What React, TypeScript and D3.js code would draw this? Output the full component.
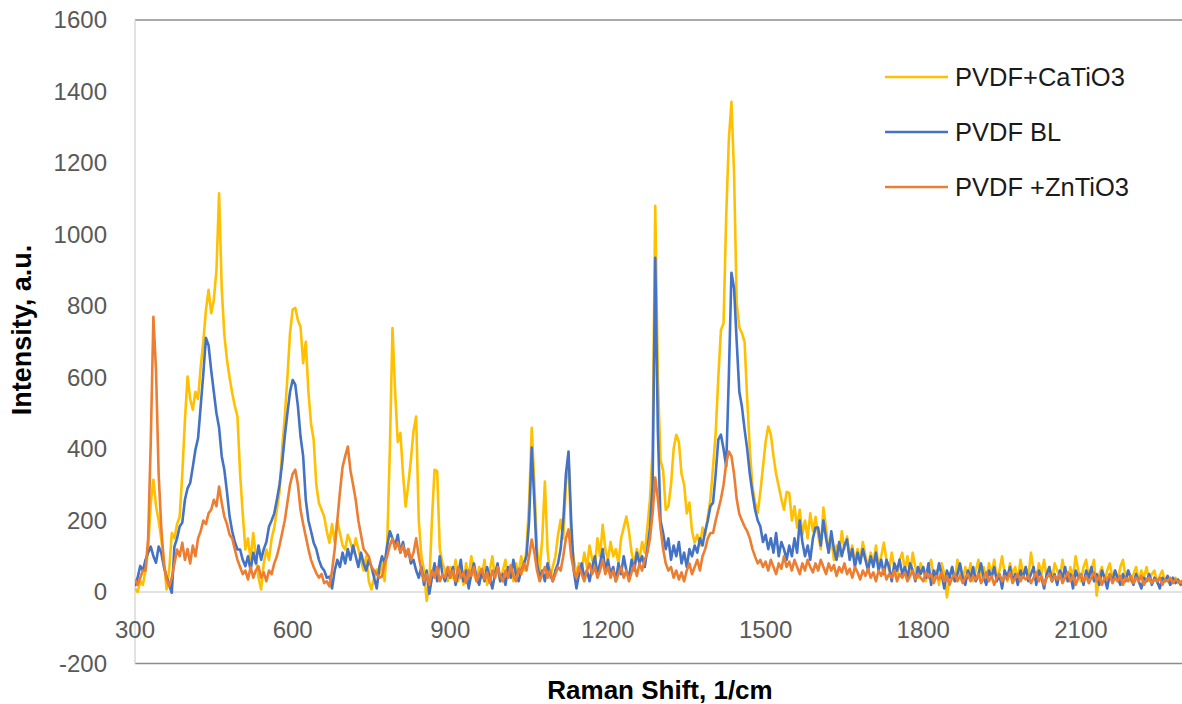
import React from "react";
import * as d3 from "d3";

// Raman shift grid, 1/cm (one reading every 5 1/cm)
const ramanShift = d3.range(300, 2301, 5);

// PVDF+CaTiO3, a.u.
const catio3 = [
  10, 0, 30, 20, 60, 119, 250, 314, 240, 200, 147, 90, 7, 60, 165, 150, 190, 211, 330, 480,
  603, 540, 510, 560, 540, 630, 700, 789, 845, 780, 817, 900, 1115, 850, 720, 649, 600, 556, 520, 491,
  330, 220, 119, 150, 90, 165, 100, 40, 7, 80, 119, 90, 150, 180, 230, 280, 400, 491, 600, 724,
  790, 795, 760, 742, 640, 700, 560, 470, 426, 300, 249, 230, 211, 170, 138, 190, 140, 200, 165, 130,
  119, 160, 140, 110, 150, 120, 90, 60, 100, 30, 7, 40, 63, 50, 80, 30, 140, 400, 738, 560,
  420, 445, 330, 239, 300, 370, 450, 491, 200, 100, 60, -25, 20, 200, 342, 338, 120, 80, 60, 30,
  70, 40, 90, 30, 60, 20, 80, 40, 100, 50, 30, 70, 40, 90, 20, 60, 100, 40, 70, 30,
  60, 90, 40, 70, 30, 80, 50, 100, 60, 120, 250, 459, 300, 120, 60, 150, 309, 120, 40, 70,
  100, 160, 202, 150, 300, 380, 150, 90, 50, 80, 60, 110, 70, 130, 90, 70, 150, 100, 188, 120,
  90, 140, 100, 120, 80, 150, 180, 211, 170, 110, 80, 120, 90, 140, 110, 180, 260, 400, 1080, 600,
  370, 340, 230, 240, 300, 400, 440, 420, 330, 300, 220, 250, 170, 138, 160, 130, 180, 160, 210, 260,
  350, 445, 600, 733, 752, 1050, 1264, 1371, 1171, 808, 740, 724, 700, 538, 400, 295, 250, 221, 280, 350,
  420, 463, 440, 380, 330, 295, 260, 230, 280, 277, 200, 240, 180, 230, 160, 200, 150, 220, 170, 210,
  160, 120, 236, 180, 110, 150, 90, 130, 100, 170, 120, 155, 100, 130, 80, 120, 90, 140, 100, 70,
  110, 80, 130, 70, 100, 138, 90, 60, 110, 70, 40, 90, 110, 60, 100, 50, 110, 70, 40, 80,
  60, 30, 70, 90, 40, 60, 20, 80, 50, -15, 40, 70, 30, 90, 50, 30, 70, 40, 80, 30,
  60, 90, 40, 70, 30, 80, 50, 90, 40, 60, 100, 50, 30, 80, 50, 70, 30, 90, 50, 70,
  40, 110, 60, 30, 80, 50, 90, 40, 70, 30, 80, 60, 40, 90, 50, 30, 70, 40, 100, 60,
  30, 70, 90, 40, 60, 90, -10, 50, 70, 30, 60, 80, 40, 60, 30, 70, 90, 40, 60, 30,
  50, 70, 30, 60, 40, 70, 30, 50, 60, 25, 45, 60, 30, 40, 20, 35, 40, 25, 30, 25,
  20,
];

// PVDF BL, a.u.
const pvdfBL = [
  16, 40, 73, 60, 90, 110, 127, 100, 82, 127, 110, 70, 43, 20, -2, 127, 150, 183, 194, 258,
  290, 305, 350, 398, 430, 520, 610, 711, 690, 620, 560, 500, 460, 380, 342, 280, 211, 170, 140, 119,
  119, 90, 72, 100, 60, 110, 80, 130, 90, 120, 140, 183, 200, 220, 258, 300, 360, 435, 500, 560,
  593, 580, 520, 435, 380, 258, 200, 170, 138, 120, 90, 70, 60, 40, 43, 10, 60, 90, 70, 110,
  80, 120, 90, 130, 100, 70, 110, 80, 60, 90, 70, 40, 10, 70, 100, 80, 130, 170, 150, 130,
  160, 110, 140, 100, 120, 80, 90, 60, 40, 70, 20, 60, -5, 40, 80, 30, 100, 50, 30, 60,
  40, 70, 20, 50, 90, 30, 60, 10, 50, 80, 40, 20, 60, 30, 70, 40, 10, 50, 80, 30,
  50, 20, 70, 40, 90, 50, 30, 60, 80, 100, 200, 404, 250, 80, 40, 60, 30, 80, 50, 30,
  60, 80, 120, 200, 330, 393, 200, 60, 10, 50, 80, 40, 60, 30, 70, 100, 50, 80, 120, 60,
  90, 50, 70, 30, 80, 50, 100, 60, 40, 90, 60, 110, 80, 100, 70, 120, 180, 300, 935, 450,
  200, 165, 120, 150, 90, 130, 100, 140, 80, 110, 70, 120, 100, 130, 110, 150, 130, 170, 200, 240,
  250, 330, 426, 440, 400, 351, 600, 893, 850, 700, 560, 518, 455, 400, 330, 277, 230, 200, 183, 140,
  160, 120, 150, 110, 165, 100, 140, 120, 90, 130, 100, 150, 110, 200, 140, 100, 130, 90, 150, 180,
  180, 130, 200, 150, 110, 170, 120, 90, 140, 100, 130, 147, 90, 120, 70, 110, 80, 120, 90, 60,
  100, 70, 110, 60, 90, 50, 90, 70, 30, 80, 60, 90, 50, 70, 40, 80, 60, 30, 70, 50,
  70, 40, 80, 20, 60, 40, 80, 50, 10, 60, 40, 70, 30, 50, 80, 40, 20, 60, 40, 70,
  30, 50, 80, 40, 20, 60, 40, 70, 30, 50, 10, 60, 40, 70, 30, 50, 20, 60, 40, 70,
  30, 50, 70, 20, 60, 40, 10, 50, 70, 30, 50, 20, 60, 40, 70, 30, 50, 10, 60, 40,
  50, 20, 60, 40, 70, 30, 50, 20, 60, 40, 10, 50, 30, 60, 40, 20, 50, 30, 60, 40,
  20, 50, 30, 10, 40, 30, 50, 20, 40, 30, 10, 40, 30, 45, 20, 40, 25, 35, 20, 30,
  25,
];

// PVDF +ZnTiO3, a.u.
const zntio3 = [
  35, 20, 40, 60, 60, 150, 420, 770, 620, 330, 180, 80, 35, 16, 40, 80, 119, 100, 138, 90,
  120, 80, 130, 100, 150, 170, 200, 190, 220, 230, 258, 240, 295, 250, 211, 190, 160, 150, 119, 90,
  70, 50, 60, 35, 70, 40, 60, 72, 40, 55, 30, 60, 50, 80, 100, 130, 165, 200, 250, 300,
  330, 342, 300, 230, 190, 155, 120, 90, 70, 53, 40, 50, 25, 30, 16, 60, 120, 200, 280, 350,
  380, 407, 340, 300, 258, 200, 160, 120, 110, 99, 70, 60, 50, 40, 43, 80, 100, 130, 150, 120,
  140, 110, 130, 100, 120, 90, 110, 150, 100, 60, 30, 50, 20, 60, 40, 70, 30, 50, 40, 70,
  40, 60, 30, 70, 40, 55, 25, 60, 45, 70, 30, 50, 65, 35, 55, 25, 60, 40, 70, 45,
  30, 60, 40, 75, 45, 30, 65, 50, 80, 60, 100, 147, 110, 60, 30, 50, 70, 40, 60, 30,
  50, 70, 60, 100, 150, 175, 100, 60, 40, 70, 50, 30, 60, 80, 50, 70, 40, 60, 90, 50,
  70, 40, 60, 30, 50, 70, 40, 60, 30, 55, 75, 45, 80, 60, 90, 110, 150, 220, 320, 260,
  180, 120, 80, 60, 70, 40, 60, 35, 55, 30, 60, 80, 50, 70, 90, 60, 100, 120, 150, 165,
  165, 200, 230, 260, 300, 360, 393, 380, 330, 260, 218, 200, 183, 170, 150, 120, 99, 80, 90, 70,
  85, 60, 90, 70, 50, 80, 65, 100, 70, 85, 60, 90, 70, 50, 80, 60, 90, 70, 55, 80,
  60, 90, 70, 50, 80, 60, 75, 45, 70, 55, 80, 50, 65, 40, 70, 55, 35, 60, 45, 65,
  40, 55, 30, 60, 45, 65, 35, 50, 40, 60, 30, 50, 40, 55, 30, 45, 60, 35, 50, 40,
  30, 55, 40, 50, 25, 45, 35, 55, 30, 45, 20, 40, 50, 30, 45, 25, 40, 50, 30, 45,
  35, 50, 25, 40, 55, 30, 45, 20, 40, 50, 30, 45, 35, 55, 25, 40, 50, 30, 45, 35,
  45, 25, 40, 55, 30, 45, 20, 40, 50, 30, 45, 35, 50, 25, 40, 55, 30, 45, 20, 40,
  50, 30, 45, 25, 40, 55, 30, 45, 20, 40, 35, 50, 25, 40, 30, 45, 20, 40, 30, 45,
  25, 40, 30, 45, 20, 35, 40, 25, 35, 30, 40, 20, 35, 30, 40, 25, 35, 30, 25, 35,
  30,
];

const seriesNames = ["PVDF+CaTiO3", "PVDF BL", "PVDF +ZnTiO3"];
const seriesColors = ["#FFC000", "#4472C4", "#ED7D31"];
const seriesValues = [catio3, pvdfBL, zntio3];

const xTicks = [300, 600, 900, 1200, 1500, 1800, 2100];
const yTicks = [-200, 0, 200, 400, 600, 800, 1000, 1200, 1400, 1600];

const W = 1182;
const H = 704;
const FONT = "'Liberation Sans', Arial, sans-serif";

export default function App() {
  const x = d3.scaleLinear().domain([300, 2300]).range([135, 1186]);
  const y = d3.scaleLinear().domain([-200, 1600]).range([663.5, 20]);

  const line = d3
    .line<number>()
    .x((_, i) => x(ramanShift[i]))
    .y((d) => y(d));

  return (
    <svg
      width={W}
      height={H}
      style={{ position: "absolute", left: 0, top: 0, background: "#fff" }}
      fontFamily={FONT}
    >
      <defs>
        <clipPath id="plot">
          <rect x={x(300)} y={y(1600) - 2} width={W - x(300)} height={y(-200) - y(1600) + 4} />
        </clipPath>
      </defs>

      {/* frame */}
      <line x1={x(300)} x2={W} y1={y(1600)} y2={y(1600)} stroke="#8c8c8c" strokeWidth={1.5} />
      <line x1={x(300)} x2={W} y1={y(-200)} y2={y(-200)} stroke="#8c8c8c" strokeWidth={1.5} />
      <line x1={x(300)} x2={x(300)} y1={y(1600)} y2={y(-200)} stroke="#d9d9d9" strokeWidth={1.5} />
      <line x1={x(300)} x2={W} y1={y(0)} y2={y(0)} stroke="#d9d9d9" strokeWidth={1.5} />

      {/* y ticks */}
      {yTicks.map((t) => (
        <text key={t} x={107} y={y(t)} dy="0.35em" textAnchor="end" fontSize={24} fill="#595959">
          {t}
        </text>
      ))}
      {/* x ticks */}
      {xTicks.map((t) => (
        <text key={t} x={x(t)} y={638} textAnchor="middle" fontSize={24} fill="#595959">
          {t}
        </text>
      ))}

      {/* spectra */}
      <g clipPath="url(#plot)">
        {seriesValues.map((vals, k) => (
          <path
            key={seriesNames[k]}
            d={line(vals) || ""}
            fill="none"
            stroke={seriesColors[k]}
            strokeWidth={2.6}
            strokeLinejoin="round"
          />
        ))}
      </g>

      {/* axis titles */}
      <text
        transform="translate(31, 330) rotate(-90)"
        textAnchor="middle"
        fontSize={27}
        fontWeight="bold"
        fill="#000"
      >
        Intensity, a.u.
      </text>
      <text x={660} y={699} textAnchor="middle" fontSize={26} fontWeight="bold" fill="#000">
        Raman Shift, 1/cm
      </text>

      {/* legend */}
      {seriesNames.map((name, k) => {
        const ly = 77 + k * 55;
        return (
          <g key={name}>
            <line x1={885} x2={948} y1={ly} y2={ly} stroke={seriesColors[k]} strokeWidth={2.5} />
            <text x={955} y={ly} dy="0.35em" fontSize={25.5} fill="#1a1a1a">
              {name}
            </text>
          </g>
        );
      })}
    </svg>
  );
}
